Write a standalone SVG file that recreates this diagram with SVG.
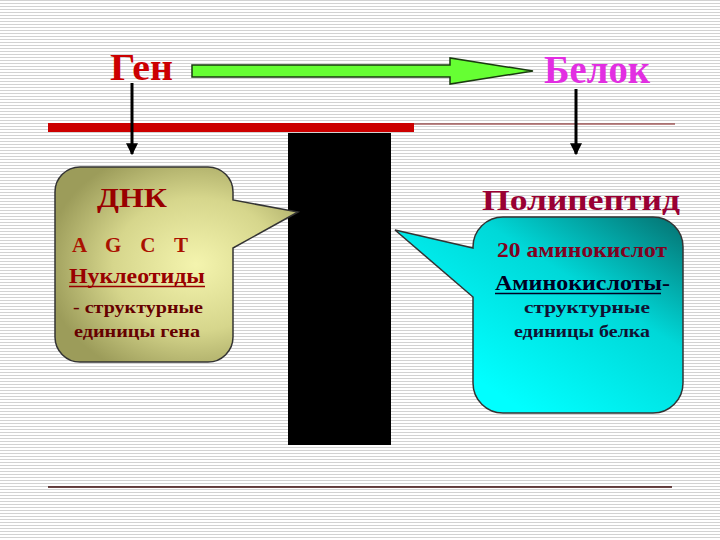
<svg xmlns="http://www.w3.org/2000/svg" width="720" height="540" viewBox="0 0 720 540">
<defs>
<pattern id="stripes" width="8" height="3" patternUnits="userSpaceOnUse">
<rect width="8" height="3" fill="#ffffff"/>
<rect y="0" width="8" height="1" fill="#d2d2d2"/>
</pattern>
<radialGradient id="olive" cx="0.58" cy="0.5" r="0.62">
<stop offset="0" stop-color="#f4f4ae"/>
<stop offset="0.55" stop-color="#d6d68c"/>
<stop offset="1" stop-color="#9c9c5a"/>
</radialGradient>
<linearGradient id="cyan" x1="1" y1="0" x2="0.25" y2="0.8">
<stop offset="0" stop-color="#05706f"/>
<stop offset="0.45" stop-color="#00d8d8"/>
<stop offset="1" stop-color="#00ffff"/>
</linearGradient>
<marker id="ah" viewBox="0 0 10 10" refX="9" refY="5" markerWidth="4" markerHeight="4" orient="auto">
<path d="M0,0 L10,5 L0,10 Z" fill="#000"/>
</marker>
<style>
.t{font-family:"Liberation Serif","Times New Roman",serif;font-weight:bold}
.box{stroke:#333;stroke-width:1.5}
.vl{stroke:#000;stroke-width:3;fill:none}
</style>
</defs>
<rect width="720" height="540" fill="url(#stripes)"/>

<g id="bars">
<line x1="48" y1="124" x2="675" y2="124" stroke="#7a1010" stroke-width="1.2"/>
<rect x="48" y="123" width="366" height="9" fill="#cc0000"/>
<line x1="48" y1="487" x2="672" y2="487" stroke="#3a0808" stroke-width="1.5"/>
</g>

<g id="black-block">
<rect x="288" y="133" width="103" height="312" fill="#000"/>
</g>

<g id="gen">
<text class="t" x="110" y="80" font-size="38" fill="#cc0000" textLength="63" lengthAdjust="spacingAndGlyphs">Ген</text>
</g>

<g id="belok">
<text class="t" x="544" y="83" font-size="39" fill="#e22ee2" textLength="106" lengthAdjust="spacingAndGlyphs">Белок</text>
</g>

<g id="connectors">
<path d="M192,65 H450 V58 L533,71 L450,84 V77 H192 Z" fill="#66ff33" stroke="#1a3a10" stroke-width="1.5"/>
<line class="vl" x1="132" y1="83" x2="132" y2="154" marker-end="url(#ah)"/>
<line class="vl" x1="576" y1="89" x2="576" y2="154" marker-end="url(#ah)"/>
</g>

<g id="dnk">
<path class="box" fill="url(#olive)" d="M80,167 H208 A25,25 0 0 1 233,192 V200 L298,212 L233,248 V337 A25,25 0 0 1 208,362 H80 A25,25 0 0 1 55,337 V192 A25,25 0 0 1 80,167 Z"/>
<text class="t" x="97" y="207" font-size="28" fill="#990000" textLength="70" lengthAdjust="spacingAndGlyphs">ДНК</text>
<text class="t" x="72" y="252" font-size="21" fill="#aa1100" textLength="116" lengthAdjust="spacing">A G C T</text>
<text class="t" x="69" y="283" font-size="21" fill="#990000" textLength="136" lengthAdjust="spacingAndGlyphs">Нуклеотиды</text>
<line x1="69" y1="286.5" x2="205" y2="286.5" stroke="#990000" stroke-width="1.5"/>
<text class="t" x="73" y="313" font-size="17" fill="#660000" textLength="130" lengthAdjust="spacingAndGlyphs">- структурные</text>
<text class="t" x="74" y="337" font-size="17" fill="#660000" textLength="126" lengthAdjust="spacingAndGlyphs">единицы гена</text>
</g>

<g id="polipeptid">
<text class="t" x="482" y="210" font-size="29" fill="#990033" textLength="198" lengthAdjust="spacingAndGlyphs">Полипептид</text>
<path class="box" fill="url(#cyan)" d="M503,217 H653 A30,30 0 0 1 683,247 V383 A30,30 0 0 1 653,413 H503 A30,30 0 0 1 473,383 V297 L395,230 L473,248 V247 A30,30 0 0 1 503,217 Z"/>
<text class="t" x="497" y="257" font-size="21" fill="#800020" textLength="170" lengthAdjust="spacingAndGlyphs">20 аминокислот</text>
<text class="t" x="495" y="290" font-size="21" fill="#000022" textLength="175" lengthAdjust="spacingAndGlyphs">Аминокислоты-</text>
<line x1="495" y1="293.5" x2="661" y2="293.5" stroke="#000022" stroke-width="1.5"/>
<text class="t" x="524" y="313" font-size="17" fill="#111133" textLength="126" lengthAdjust="spacingAndGlyphs">структурные</text>
<text class="t" x="514" y="337" font-size="17" fill="#111133" textLength="136" lengthAdjust="spacingAndGlyphs">единицы белка</text>
</g>
</svg>
